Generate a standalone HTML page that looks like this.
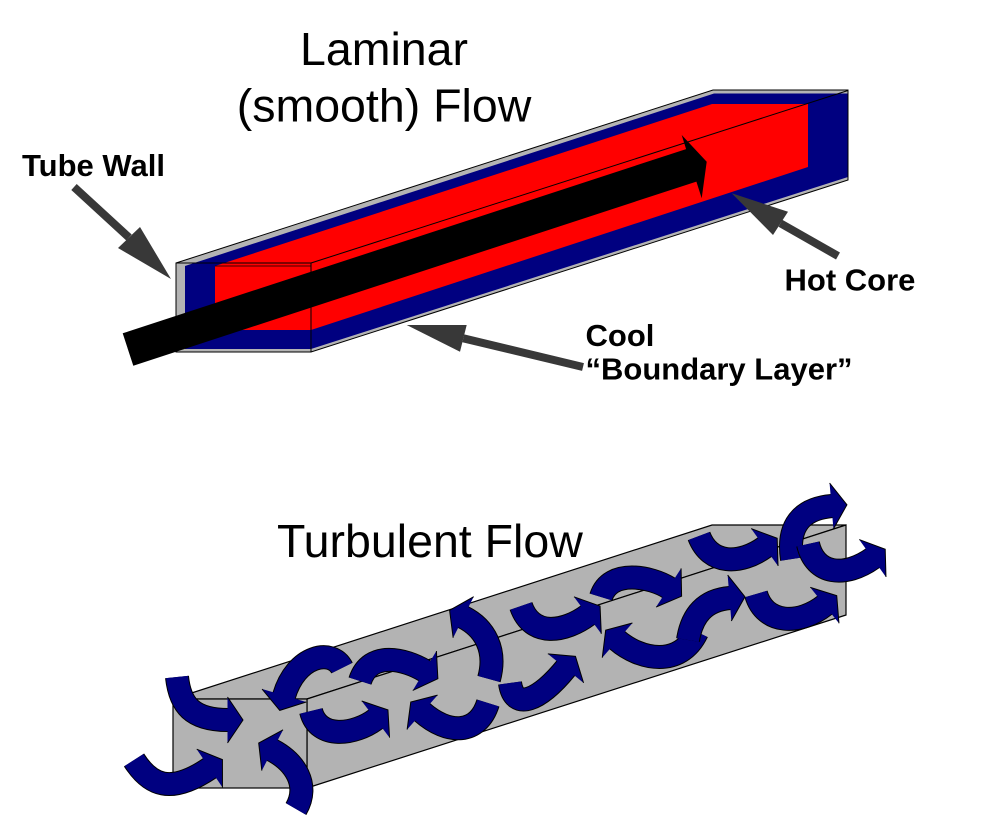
<!DOCTYPE html>
<html>
<head>
<meta charset="utf-8">
<style>
  html, body { margin: 0; padding: 0; background: #ffffff; }
  body { width: 1000px; height: 822px; overflow: hidden; position: relative; }
  svg { position: absolute; left: 0; top: 0; }
  .title { font-family: "Liberation Sans", Arial, sans-serif; font-size: 46.5px; fill: #000; }
  .lbl { font-family: "Liberation Sans", Arial, sans-serif; font-size: 31px; font-weight: bold; fill: #000; }
  .ol { fill: none; stroke: #000; stroke-width: 24; stroke-linecap: butt; }
  .bd { fill: none; stroke: #000080; stroke-width: 22; stroke-linecap: butt; marker-end: url(#ah); }
</style>
</head>
<body>
<svg width="1000" height="822" viewBox="0 0 1000 822" xmlns="http://www.w3.org/2000/svg">
  <defs>
    <marker id="ah" markerUnits="userSpaceOnUse" orient="auto" markerWidth="80" markerHeight="80" viewBox="-40 -40 80 80" refX="0" refY="0">
      <path d="M-0.5,-23 L15,0 L-0.5,23" fill="#000080" stroke="#000" stroke-width="1"/>
    </marker>
  </defs>

  <!-- Titles -->
  <text class="title" x="384" y="65" text-anchor="middle">Laminar</text>
  <text class="title" x="384" y="121.7" text-anchor="middle">(smooth) Flow</text>
  <text class="title" x="277" y="557">Turbulent Flow</text>

  <!-- Labels -->
  <text class="lbl" x="22" y="176">Tube Wall</text>
  <text class="lbl" x="784.5" y="290.7">Hot Core</text>
  <text class="lbl" x="585.5" y="346">Cool</text>
  <text class="lbl" x="585.5" y="379.3">“Boundary Layer”</text>

  <!-- Laminar tube -->
  <polygon points="176,263 713,90 848,90 848,180 311,352 176,352" fill="#b4b4b4" stroke="#000" stroke-width="1"/>
  <polygon points="185,266 714,93.5 848,93.5 848,177 311,349 185,349" fill="#000080"/>
  <polygon points="215,266 712,104 808,104 808,167 311,330 215,330" fill="#ff0000"/>
  <line x1="311" y1="263" x2="848" y2="90.5" stroke="#000" stroke-width="1"/>
  <line x1="311" y1="263" x2="311" y2="352" stroke="#000" stroke-width="1"/>
  <line x1="176" y1="263" x2="311" y2="263" stroke="#000" stroke-width="1"/>
  <line x1="215" y1="266" x2="311" y2="266" stroke="#000" stroke-width="0.8"/>
  <line x1="848" y1="90" x2="848" y2="180" stroke="#000" stroke-width="1"/>

  <!-- Black flow arrow -->
  <polygon points="122.7,333.3 133.3,365.7 696.4,181.6 701.7,198.3 706.7,161.7 681.7,135 686.1,149.1" fill="#000"/>

  <!-- Pointer arrows -->
  <line x1="74" y1="187" x2="129" y2="237.5" stroke="#383838" stroke-width="8"/>
  <polygon points="118,248 140,227 171,279" fill="#383838"/>

  <line x1="838" y1="256" x2="780.5" y2="223.3" stroke="#383838" stroke-width="8"/>
  <polygon points="788,211.7 773,235 731.7,193.3" fill="#383838"/>

  <line x1="583" y1="367" x2="463.3" y2="338.3" stroke="#383838" stroke-width="8"/>
  <polygon points="466.7,325 460,351.7 406.7,325" fill="#383838"/>

  <!-- Turbulent box -->
  <polygon points="173,699 712,525 846,525 307,699" fill="#b3b3b3" stroke="#000" stroke-width="1.2"/>
  <polygon points="307,699 846,525 846,615 307,788" fill="#b3b3b3" stroke="#000" stroke-width="1.2"/>
  <rect x="173" y="699" width="134" height="89" fill="#b3b3b3" stroke="#000" stroke-width="1.2"/>

  <!-- Swirl arrows -->
  <path class="ol" d="M177,677 C180,705 192,720 228,720"/>
  <path class="bd" d="M177,677 C180,705 192,720 228,720"/>

  <path class="ol" d="M134,760 C150,785 170,795 210,768"/>
  <path class="bd" d="M134,760 C150,785 170,795 210,768"/>

  <path class="ol" d="M296,809 C310,785 295,762 272,750"/>
  <path class="bd" d="M296,809 C310,785 295,762 272,750"/>

  <path class="ol" d="M342,668 C332,648 296,655 284,696"/>
  <path class="bd" d="M342,668 C332,648 296,655 284,696"/>

  <path class="ol" d="M360,681 C370,650 405,659 425,671"/>
  <path class="bd" d="M360,681 C370,650 405,659 425,671"/>

  <path class="ol" d="M311,711 C318,740 355,735 376,719"/>
  <path class="bd" d="M311,711 C318,740 355,735 376,719"/>

  <path class="ol" d="M488,703 C478,735 448,735 422,712"/>
  <path class="bd" d="M488,703 C478,735 448,735 422,712"/>

  <path class="ol" d="M489,679 C497,650 485,628 463,617"/>
  <path class="bd" d="M489,679 C497,650 485,628 463,617"/>

  <path class="ol" d="M521,606 C532,638 565,632 588,615"/>
  <path class="bd" d="M521,606 C532,638 565,632 588,615"/>

  <path class="ol" d="M510,683 C514,712 540,700 566,668"/>
  <path class="bd" d="M510,683 C514,712 540,700 566,668"/>

  <path class="ol" d="M601,597 C610,568 652,577 669,588"/>
  <path class="bd" d="M601,597 C610,568 652,577 669,588"/>

  <path class="ol" d="M697,632 C680,668 640,660 617,640"/>
  <path class="bd" d="M697,632 C680,668 640,660 617,640"/>

  <path class="ol" d="M688,640 C692,615 705,600 730,598"/>
  <path class="bd" d="M688,640 C692,615 705,600 730,598"/>

  <path class="ol" d="M699,536 C710,565 740,565 765,547"/>
  <path class="bd" d="M699,536 C710,565 740,565 765,547"/>

  <path class="ol" d="M756,594 C765,625 800,625 825,605"/>
  <path class="bd" d="M756,594 C765,625 800,625 825,605"/>

  <path class="ol" d="M792,559 C786,520 808,508 832,506"/>
  <path class="bd" d="M792,559 C786,520 808,508 832,506"/>

  <path class="ol" d="M808,544 C815,575 845,578 873,558"/>
  <path class="bd" d="M808,544 C815,575 845,578 873,558"/>
</svg>
</body>
</html>
